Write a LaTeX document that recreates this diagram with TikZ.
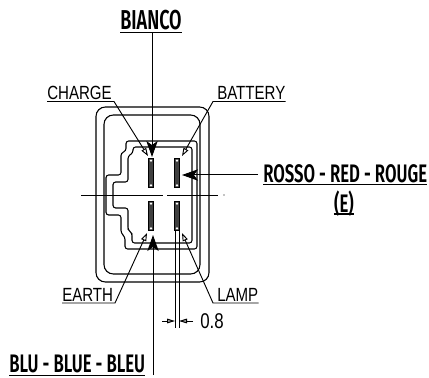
\documentclass[tikz,border=0pt]{standalone}
\usepackage{fontspec}
\setmainfont[FakeStretch=0.79]{Liberation Sans}
\newfontfamily\capsfont[FakeStretch=0.66]{Fira Sans SemiBold}
\usetikzlibrary{arrows.meta,positioning}
\begin{document}
\begin{tikzpicture}[
    x=0.75pt, y=-0.75pt,
    pinlabel/.style={inner sep=0pt, font=\fontsize{14.3}{16}\selectfont},
    wirelabel/.style={inner sep=0pt, font=\capsfont\fontsize{19}{22}\selectfont},
    terminal/.style={rectangle, draw=black, fill=black!75, line width=0.6pt, minimum width=3.5pt, minimum height=22pt, inner sep=0pt},
    housing/.style={line width=0.8pt, rounded corners=7pt},
    contour/.style={line width=0.8pt, rounded corners=2pt},
    bigarrow/.style={-{Stealth[length=12pt, width=8.5pt, inset=3pt]}, line width=0.75pt},
    leader/.style={-{Stealth[open, length=6pt, width=4pt, inset=0pt, fill=white]}, line width=0.7pt},
    dimarrow/.style={-{Stealth[open, length=6pt, width=3.5pt, inset=0pt, fill=black!40]}, line width=0.7pt},
    dimline/.style={line width=0.7pt}
]
\useasboundingbox (0,0) rectangle (429,378);

% === HOUSING ===
\draw[housing] (96,107) rectangle (209,282);
\draw[housing] (104,115) rectangle (200,274);

% === CONNECTOR OUTLINE ===
\draw[contour] (197,195) -- (197,141) -- (126,141) -- (126,151) -- (121,153) -- (121,175) -- (106,175) -- (106,215) -- (121,215) -- (121,233) -- (125,237) -- (125,249) -- (197,249) -- (197,195);
\draw[contour] (192,195) -- (192,147) -- (133,147) -- (133,153) -- (128,156) -- (128,182) -- (113,182) -- (113,208) -- (128,208) -- (128,230) -- (132,233) -- (132,243) -- (192,243) -- (192,195);

% === CENTRE LINE ===
\draw[line width=0.7pt] (81,195) -- (163,195) (167,195) -- (218,195);
\fill (224,195) circle (0.4pt);

% === TERMINALS ===
\node[terminal] (pin-charge) at (151,173) {};
\node[terminal] (pin-battery) at (177,173) {};
\node[terminal] (pin-earth) at (151,216) {};
\node[terminal] (pin-lamp) at (177,216) {};
\foreach \pin in {pin-charge,pin-battery,pin-earth,pin-lamp} {
    \fill[white] ([yshift=-2pt]\pin.north) circle (1pt);
    \fill[white] ([yshift=2pt]\pin.south) circle (1pt);
}

% === LABELS ===
\node[wirelabel, font=\capsfont\fontsize{20.5}{22}\selectfont, anchor=base] (bianco) at (151,30) {BIANCO};
\node[wirelabel, anchor=base west] (rosso) at (263,182) {ROSSO - RED - ROUGE};
\node[wirelabel, anchor=base] (rosso-e) at (344,212) {(E)};
\node[wirelabel, anchor=base west] (blu) at (9,372) {BLU - BLUE - BLEU};
\node[pinlabel, anchor=base west] (charge) at (47,100) {CHARGE};
\node[pinlabel, anchor=base west] (battery) at (217,100) {BATTERY};
\node[pinlabel, anchor=base west] (earth) at (62,301.5) {EARTH};
\node[pinlabel, anchor=base west] (lamp) at (217,301.5) {LAMP};
\node[pinlabel, font=\fontsize{16}{18}\selectfont, anchor=west] (dim) at (200,321) {0.8};

% === UNDERLINES ===
\draw[line width=1pt] (bianco.west |- 0,32.5) -- (bianco.east |- 0,32.5);
\draw[line width=1pt] (rosso.west |- 0,184.5) -- (rosso.east |- 0,184.5);
\draw[line width=1pt] (rosso-e.west |- 0,214) -- (rosso-e.east |- 0,214);
\draw[line width=1pt] (blu.west |- 0,375.5) -- (blu.east |- 0,375.5);

% === ARROWS TO TERMINALS ===
\coordinate (tip-bianco) at (152,157);
\coordinate (tip-rosso) at (182,175);
\coordinate (tip-blu) at (153,235);
\coordinate (tail-bianco) at (152,32.5);
\coordinate (tail-rosso) at (258,175);
\coordinate (tail-blu) at (153,375);
\draw[bigarrow] (tail-bianco) -- (tip-bianco);
\draw[bigarrow] (tail-rosso) -- (tip-rosso);
\draw[bigarrow] (tail-blu) -- (tip-blu);

% === PIN LEADERS ===
\coordinate (tip-charge) at (148,156);
\coordinate (tip-battery) at (182,156);
\coordinate (tip-earth) at (147,233);
\coordinate (tip-lamp) at (182,233);
\coordinate (knee-charge) at (114,101.5);
\coordinate (knee-battery) at (213,101.5);
\coordinate (knee-earth) at (115,303);
\coordinate (knee-lamp) at (213,303);
\draw[leader] (charge.west |- knee-charge) -- (knee-charge) -- (tip-charge);
\draw[leader] (battery.east |- knee-battery) -- (knee-battery) -- (tip-battery);
\draw[leader] (earth.west |- knee-earth) -- (knee-earth) -- (tip-earth);
\draw[leader] (lamp.east |- knee-lamp) -- (knee-lamp) -- (tip-lamp);

% === DIMENSION 0.8 ===
\coordinate (dim-a) at (175,328);
\coordinate (dim-b) at (179,328);
\coordinate (dim-left) at (162,321);
\coordinate (dim-right) at (193,321);
\draw[dimline] (pin-lamp.south -| dim-a) -- (dim-a);
\draw[dimline] (pin-lamp.south -| dim-b) -- (dim-b);
\draw[dimarrow] (dim-left) -- (dim-a |- dim-left);
\draw[dimarrow] (dim-right) -- (dim-b |- dim-right);

\end{tikzpicture}
\end{document}
